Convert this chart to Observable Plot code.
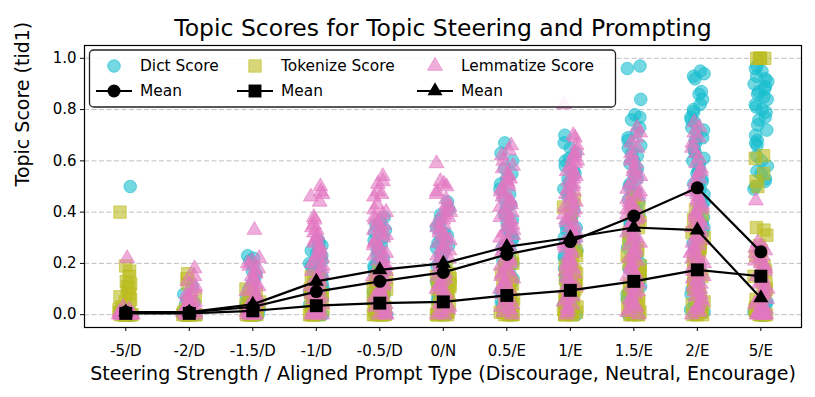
<!DOCTYPE html>
<html><head><meta charset="utf-8">
<script src="https://cdn.jsdelivr.net/npm/d3@7"></script>
<script src="https://cdn.jsdelivr.net/npm/@observablehq/plot@0.6"></script>
<style>
body{margin:0;background:#fff}
#chart svg{font-family:"DejaVu Sans",sans-serif;overflow:visible}
</style>
</head><body><div id="chart"></div>
<script>
const categories = ["-5/D","-2/D","-1.5/D","-1/D","-0.5/D","0/N","0.5/E","1/E","1.5/E","2/E","5/E"];
const yTicks = [0, 0.2, 0.4, 0.6, 0.8, 1.0];

const dictScores = [
  [0.50,0.02,0.01,0.01,0,0,0,0,0,0,0,0,0,0,0,0,0,0,0,0],
  [0.11,0.08,0.06,0.05,0.04,0.03,0.02,0.02,0.01,0.01,0,0,0,0,0,0,0,0,0,0],
  [0.23,0.22,0.21,0.19,0.17,0.16,0.14,0.12,0.10,0.08,0.07,0.05,0.04,0.03,0.02,0.01,0.01,0,0,0,0,0,0,0],
  [0.29,0.28,0.27,0.26,0.25,0.24,0.23,0.22,0.21,0.20,0.19,0.18,0.17,0.16,0.15,0.14,0.13,0.12,0.11,0.10,0.09,0.08,0.07,0.06,0.05,0.04,0.03,0.02,0.01,0,0,0,0],
  [0.38,0.36,0.35,0.33,0.32,0.30,0.29,0.27,0.26,0.25,0.23,0.22,0.21,0.20,0.19,0.18,0.17,0.16,0.15,0.14,0.13,0.12,0.11,0.10,0.09,0.08,0.07,0.06,0.05,0.04,0.03,0.02,0.01,0,0,0,0],
  [0.44,0.41,0.39,0.37,0.35,0.34,0.32,0.31,0.30,0.29,0.28,0.27,0.26,0.25,0.24,0.23,0.22,0.21,0.20,0.19,0.18,0.17,0.16,0.15,0.14,0.13,0.12,0.11,0.10,0.09,0.08,0.07,0.06,0.05,0.04,0.03,0.02,0.01,0,0,0],
  [0.67,0.63,0.60,0.57,0.55,0.53,0.51,0.49,0.47,0.45,0.43,0.42,0.40,0.39,0.37,0.36,0.34,0.33,0.32,0.30,0.29,0.28,0.27,0.26,0.25,0.24,0.23,0.22,0.21,0.20,0.18,0.17,0.16,0.14,0.13,0.12,0.10,0.09,0.08,0.06,0.05,0.04,0.03,0.02,0.01,0,0,0],
  [0.70,0.67,0.65,0.63,0.61,0.60,0.58,0.56,0.55,0.53,0.52,0.50,0.49,0.47,0.46,0.44,0.43,0.41,0.40,0.38,0.37,0.35,0.34,0.33,0.31,0.30,0.29,0.27,0.26,0.25,0.23,0.22,0.21,0.19,0.18,0.17,0.15,0.14,0.13,0.11,0.10,0.08,0.07,0.05,0.04,0.03,0.02,0.01,0,0],
  [0.97,0.96,0.84,0.78,0.77,0.76,0.73,0.71,0.69,0.68,0.66,0.65,0.63,0.62,0.60,0.59,0.57,0.56,0.54,0.53,0.51,0.50,0.48,0.47,0.45,0.44,0.42,0.41,0.39,0.38,0.36,0.35,0.33,0.32,0.30,0.29,0.27,0.26,0.24,0.23,0.21,0.20,0.18,0.17,0.15,0.14,0.12,0.11,0.09,0.08,0.06,0.05,0.03,0.02,0.01,0,0,0],
  [0.95,0.94,0.93,0.92,0.87,0.86,0.84,0.82,0.80,0.79,0.77,0.76,0.75,0.73,0.72,0.71,0.69,0.68,0.67,0.65,0.64,0.63,0.61,0.60,0.59,0.57,0.56,0.55,0.53,0.52,0.51,0.49,0.48,0.47,0.45,0.44,0.43,0.41,0.40,0.38,0.36,0.34,0.32,0.30,0.28,0.26,0.24,0.22,0.20,0.18,0.16,0.14,0.12,0.10,0.08,0.06,0.04,0.02,0.01,0],
  [0.97,0.96,0.95,0.93,0.92,0.91,0.90,0.89,0.88,0.87,0.86,0.85,0.84,0.82,0.81,0.80,0.79,0.77,0.76,0.74,0.72,0.70,0.68,0.67,0.66,0.62,0.60,0.58,0.56,0.55,0.53,0.52,0.50,0.49,0.05,0.04,0.03,0.02,0.02,0.01,0.01,0,0,0,0,0,0,0,0,0,0,0]
];
const tokenizeScores = [
  [0.40,0.19,0.17,0.15,0.13,0.12,0.11,0.10,0.09,0.08,0.07,0.06,0.05,0.04,0.03,0.02,0.01,0.01,0,0,0,0,0,0,0,0,0,0],
  [0.16,0.14,0.12,0.07,0.05,0.04,0.03,0.02,0.02,0.01,0.01,0,0,0,0,0,0,0,0,0],
  [0.10,0.09,0.08,0.07,0.06,0.05,0.05,0.04,0.03,0.03,0.02,0.02,0.01,0.01,0,0,0,0,0,0,0,0],
  [0.15,0.14,0.13,0.12,0.11,0.10,0.09,0.09,0.08,0.07,0.07,0.06,0.05,0.05,0.04,0.03,0.03,0.02,0.02,0.01,0.01,0,0,0,0,0,0,0],
  [0.17,0.15,0.14,0.13,0.12,0.11,0.10,0.09,0.09,0.08,0.07,0.07,0.06,0.05,0.05,0.04,0.03,0.03,0.02,0.02,0.01,0.01,0,0,0,0,0,0,0],
  [0.18,0.17,0.16,0.15,0.14,0.13,0.12,0.11,0.10,0.10,0.09,0.08,0.08,0.07,0.06,0.06,0.05,0.04,0.04,0.03,0.02,0.02,0.01,0.01,0,0,0,0,0,0],
  [0.22,0.20,0.19,0.18,0.17,0.16,0.15,0.14,0.13,0.12,0.12,0.11,0.10,0.10,0.09,0.08,0.08,0.07,0.06,0.06,0.05,0.04,0.04,0.03,0.02,0.02,0.01,0.01,0,0,0,0,0],
  [0.45,0.42,0.39,0.27,0.25,0.23,0.21,0.20,0.19,0.18,0.17,0.16,0.15,0.14,0.13,0.12,0.11,0.10,0.10,0.09,0.08,0.07,0.07,0.06,0.05,0.04,0.04,0.03,0.02,0.02,0.01,0.01,0,0,0,0,0],
  [0.46,0.44,0.42,0.40,0.38,0.36,0.34,0.32,0.30,0.28,0.26,0.25,0.23,0.22,0.21,0.20,0.19,0.18,0.17,0.16,0.15,0.14,0.13,0.12,0.11,0.10,0.09,0.08,0.07,0.06,0.05,0.04,0.03,0.02,0.02,0.01,0.01,0,0,0,0],
  [0.41,0.39,0.37,0.35,0.33,0.32,0.30,0.29,0.28,0.27,0.26,0.25,0.24,0.23,0.22,0.21,0.20,0.19,0.18,0.17,0.16,0.15,0.14,0.13,0.12,0.11,0.10,0.09,0.08,0.07,0.06,0.05,0.04,0.03,0.02,0.01,0.01,0,0,0,0],
  [1.0,1.0,1.0,1.0,1.0,0.62,0.61,0.55,0.52,0.50,0.34,0.33,0.31,0.27,0.25,0.23,0.21,0.19,0.17,0.15,0.13,0.12,0.10,0.09,0.08,0.06,0.05,0.04,0.03,0.02,0.01,0.01,0,0,0,0,0,0]
];
const lemmatizeScores = [
  [0.22,0.03,0.02,0.01,0.01,0,0,0,0,0,0,0,0,0,0,0,0,0,0,0,0,0],
  [0.18,0.15,0.13,0.11,0.10,0.09,0.08,0.07,0.06,0.05,0.04,0.04,0.03,0.02,0.02,0.01,0.01,0,0,0,0,0,0],
  [0.33,0.22,0.21,0.20,0.19,0.18,0.17,0.16,0.15,0.14,0.13,0.12,0.11,0.10,0.09,0.08,0.07,0.06,0.05,0.04,0.03,0.03,0.02,0.02,0.01,0.01,0,0,0,0,0,0],
  [0.50,0.48,0.47,0.46,0.44,0.38,0.37,0.35,0.34,0.33,0.32,0.31,0.30,0.29,0.28,0.27,0.26,0.25,0.24,0.23,0.22,0.21,0.20,0.19,0.18,0.17,0.16,0.15,0.14,0.13,0.12,0.11,0.10,0.09,0.08,0.07,0.06,0.05,0.04,0.03,0.02,0.02,0.01,0.01,0,0,0,0],
  [0.54,0.52,0.51,0.48,0.47,0.46,0.43,0.41,0.40,0.39,0.38,0.37,0.36,0.35,0.34,0.33,0.32,0.31,0.30,0.29,0.28,0.27,0.26,0.25,0.24,0.23,0.22,0.21,0.20,0.19,0.18,0.17,0.16,0.15,0.14,0.13,0.12,0.11,0.10,0.09,0.08,0.07,0.06,0.05,0.04,0.03,0.02,0.01,0,0,0],
  [0.59,0.52,0.51,0.50,0.48,0.47,0.45,0.43,0.42,0.41,0.40,0.39,0.38,0.37,0.36,0.35,0.34,0.33,0.32,0.31,0.30,0.29,0.28,0.27,0.26,0.25,0.24,0.23,0.22,0.21,0.20,0.19,0.18,0.17,0.16,0.15,0.14,0.13,0.12,0.11,0.10,0.09,0.08,0.07,0.06,0.05,0.04,0.03,0.02,0.01,0,0],
  [0.66,0.64,0.62,0.60,0.58,0.57,0.55,0.54,0.53,0.52,0.51,0.50,0.49,0.48,0.47,0.46,0.45,0.44,0.43,0.42,0.41,0.40,0.39,0.38,0.37,0.36,0.35,0.34,0.33,0.32,0.31,0.30,0.29,0.28,0.27,0.26,0.25,0.24,0.23,0.22,0.21,0.20,0.19,0.18,0.17,0.16,0.15,0.14,0.13,0.12,0.11,0.10,0.09,0.08,0.07,0.06,0.05,0.04,0.03,0.02,0.01,0],
  [0.82,0.70,0.69,0.66,0.64,0.63,0.62,0.61,0.60,0.59,0.58,0.57,0.56,0.55,0.54,0.53,0.52,0.51,0.50,0.49,0.48,0.47,0.46,0.45,0.44,0.43,0.42,0.41,0.40,0.39,0.38,0.37,0.36,0.35,0.34,0.33,0.32,0.31,0.30,0.29,0.28,0.27,0.26,0.25,0.24,0.23,0.22,0.21,0.20,0.19,0.18,0.17,0.16,0.15,0.14,0.13,0.12,0.11,0.10,0.09,0.08,0.07,0.06,0.05,0.04,0.03,0.02,0.01,0],
  [0.73,0.71,0.69,0.67,0.65,0.63,0.61,0.60,0.59,0.57,0.56,0.55,0.54,0.53,0.51,0.50,0.49,0.48,0.47,0.46,0.45,0.44,0.43,0.42,0.41,0.40,0.39,0.38,0.37,0.36,0.35,0.34,0.33,0.32,0.31,0.30,0.29,0.28,0.27,0.26,0.25,0.24,0.23,0.22,0.21,0.20,0.19,0.18,0.17,0.16,0.15,0.14,0.13,0.12,0.11,0.10,0.09,0.08,0.07,0.06,0.05,0.04,0.03,0.02,0.01,0],
  [0.75,0.73,0.71,0.69,0.67,0.65,0.63,0.61,0.59,0.57,0.56,0.55,0.53,0.52,0.51,0.50,0.49,0.48,0.47,0.46,0.45,0.44,0.43,0.42,0.41,0.40,0.39,0.38,0.37,0.36,0.35,0.34,0.33,0.32,0.31,0.30,0.29,0.28,0.27,0.26,0.25,0.24,0.23,0.22,0.21,0.20,0.19,0.18,0.17,0.16,0.15,0.14,0.13,0.12,0.11,0.10,0.09,0.08,0.07,0.06,0.05,0.04,0.03,0.02,0.01,0],
  [0.445,0.28,0.27,0.26,0.25,0.24,0.23,0.22,0.21,0.20,0.19,0.18,0.17,0.16,0.15,0.14,0.13,0.12,0.11,0.10,0.09,0.08,0.07,0.06,0.05,0.04,0.03,0.02,0.02,0.01,0.01,0,0,0,0,0,0,0,0]
];
const dictMean = [0.01,0.01,0.03,0.09,0.13,0.165,0.235,0.285,0.385,0.495,0.245];
const tokenizeMean = [0.005,0.005,0.015,0.035,0.045,0.05,0.075,0.095,0.13,0.175,0.15];
const lemmatizeMean = [0.01,0.01,0.04,0.13,0.175,0.20,0.265,0.30,0.34,0.33,0.065];

const COLORS = {dict:"#17becf", tok:"#bcbd22", lem:"#e377c2"};

// deterministic horizontal jitter (strip-plot spread only)
function jit(i, seed) {
  const s = Math.sin(i * 127.1 + seed * 311.7) * 43758.5453;
  return (s - Math.floor(s) - 0.5) * 0.22;
}
function strip(arrs, seed) {
  const out = [];
  arrs.forEach((vals, c) => vals.forEach(v => out.push({x: c + jit(out.length, seed), y: v})));
  return out;
}
const dictPts = strip(dictScores, 1);
const tokPts = strip(tokenizeScores, 2);
const lemPts = strip(lemmatizeScores, 3);
const means = arr => arr.map((v, i) => ({x: i, y: v}));

const W = 815, H = 397;
const plot = Plot.plot({
  width: W, height: H,
  marginTop: 45, marginBottom: 70, marginLeft: 84, marginRight: 14,
  style: {fontFamily: "DejaVu Sans", color: "black", background: "white"},
  x: {type: "linear", domain: [-0.65, 10.64]},
  y: {domain: [-0.05, 1.05]},
  marks: [
    Plot.gridY(yTicks, {stroke: "#b0b0b0", strokeOpacity: 0.8, strokeDasharray: "5,2.5", strokeWidth: 1}),
    Plot.dot(dictPts, {x: "x", y: "y", r: 6.3, symbol: "circle", fill: COLORS.dict, fillOpacity: 0.6, stroke: COLORS.dict, strokeOpacity: 0.6, strokeWidth: 1}),
    Plot.dot(tokPts, {x: "x", y: "y", r: 7.0, symbol: "square", fill: COLORS.tok, fillOpacity: 0.6, stroke: COLORS.tok, strokeOpacity: 0.6, strokeWidth: 1}),
    Plot.dot(lemPts, {x: "x", y: "y", r: 5.5, symbol: "triangle", fill: COLORS.lem, fillOpacity: 0.6, stroke: COLORS.lem, strokeOpacity: 0.6, strokeWidth: 1}),
    Plot.line(means(dictMean), {x: "x", y: "y", stroke: "black", strokeWidth: 2.2}),
    Plot.dot(means(dictMean), {x: "x", y: "y", r: 6.5, symbol: "circle", fill: "black"}),
    Plot.line(means(tokenizeMean), {x: "x", y: "y", stroke: "black", strokeWidth: 2.2}),
    Plot.dot(means(tokenizeMean), {x: "x", y: "y", r: 7.3, symbol: "square", fill: "black"}),
    Plot.line(means(lemmatizeMean), {x: "x", y: "y", stroke: "black", strokeWidth: 2.2}),
    Plot.dot(means(lemmatizeMean), {x: "x", y: "y", r: 5.6, symbol: "triangle", fill: "black"}),
    Plot.frame({stroke: "black", strokeWidth: 1.2}),
    Plot.axisX({ticks: d3.range(categories.length), tickFormat: i => categories[i], tickSize: 4, tickPadding: 14, fontSize: 15, label: null}),
    Plot.axisY({ticks: yTicks, tickFormat: d3.format(".1f"), tickSize: 4, tickPadding: 4, fontSize: 15, label: null}),
    Plot.text(["Steering Strength / Aligned Prompt Type (Discourage, Neutral, Encourage)"], {frameAnchor: "bottom", dy: 52, fontSize: 19, fill: "black"}),
    Plot.text(["Topic Score (tid1)"], {frameAnchor: "left", rotate: -90, dx: -62, fontSize: 19, fill: "black"}),
    Plot.text(["Topic Scores for Topic Steering and Prompting"], {frameAnchor: "top", dy: -26, fontSize: 23.5, fill: "black"})
  ]
});
document.getElementById("chart").appendChild(plot);

// Legend (drawn into the same SVG)
const svg = d3.select(plot);
const lg = svg.append("g").attr("font-family", "DejaVu Sans").attr("font-size", 15.4).attr("text-anchor", "start");
lg.append("rect").attr("x", 89.5).attr("y", 50).attr("width", 526).attr("height", 57).attr("rx", 4)
  .attr("fill", "white").attr("fill-opacity", 0.85).attr("stroke", "#222").attr("stroke-width", 1.3);
const sym = (type, r) => d3.symbol(type, r * r * Math.PI)();
const items = [
  {cx: 114, label: "Dict Score", color: COLORS.dict, type: d3.symbolCircle, r: 6.3, mr: 6.5, tx: 140},
  {cx: 255, label: "Tokenize Score", color: COLORS.tok, type: d3.symbolSquare, r: 7.0, mr: 7.3, tx: 281},
  {cx: 435, label: "Lemmatize Score", color: COLORS.lem, type: d3.symbolTriangle, r: 5.5, mr: 5.6, tx: 461}
];
items.forEach(it => {
  lg.append("path").attr("d", sym(it.type, it.r)).attr("transform", `translate(${it.cx},66)`)
    .attr("fill", it.color).attr("fill-opacity", 0.6).attr("stroke", it.color).attr("stroke-opacity", 0.6);
  lg.append("text").attr("x", it.tx).attr("y", 66).attr("dy", "0.35em").attr("fill", "black").text(it.label);
  lg.append("line").attr("x1", it.cx - 18).attr("x2", it.cx + 18).attr("y1", 91).attr("y2", 91)
    .attr("stroke", "black").attr("stroke-width", 2.2);
  lg.append("path").attr("d", sym(it.type, it.mr)).attr("transform", `translate(${it.cx},91)`).attr("fill", "black");
  lg.append("text").attr("x", it.tx).attr("y", 91).attr("dy", "0.35em").attr("fill", "black").text("Mean");
});
</script>
</body></html>
